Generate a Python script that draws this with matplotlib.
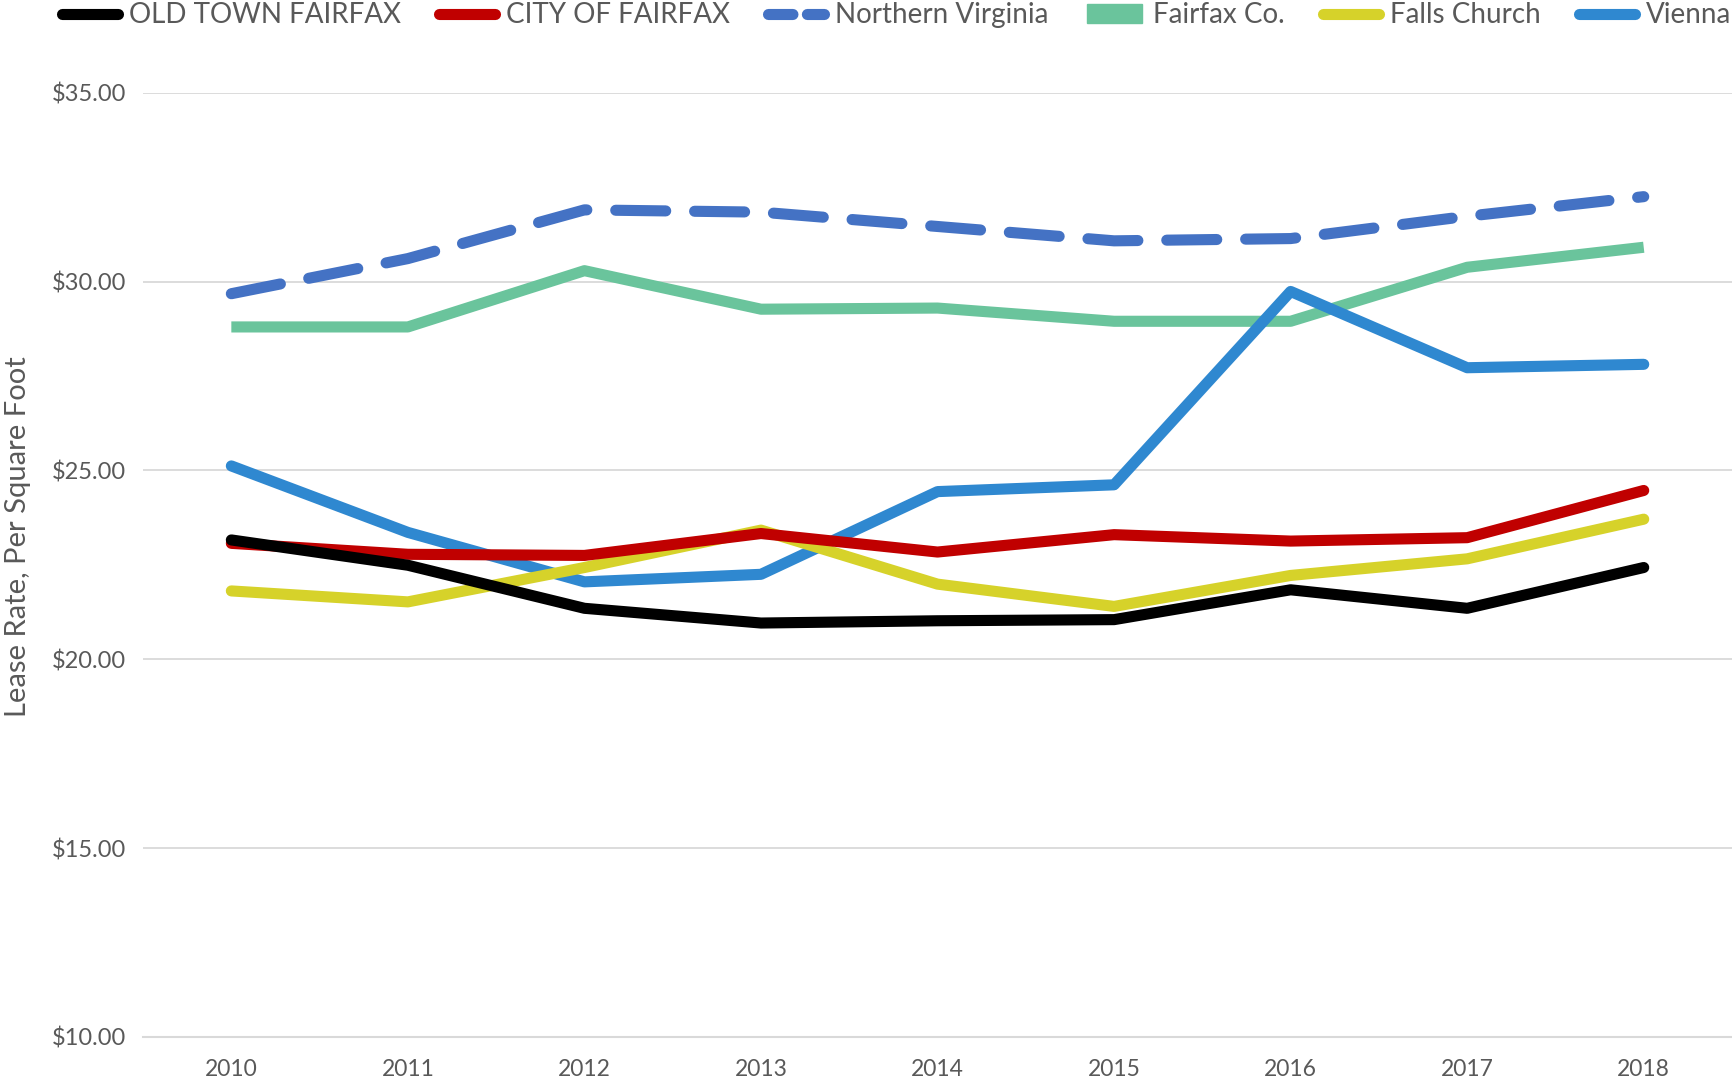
import matplotlib.pyplot as plt
from matplotlib.lines import Line2D
from matplotlib.patches import Patch

years = ['2010', '2011', '2012', '2013', '2014', '2015', '2016', '2017', '2018']

old_town = [23.16, 22.49, 21.35, 20.96, 21.02, 21.05, 21.84, 21.35, 22.43]
city_fairfax = [23.07, 22.78, 22.75, 23.33, 22.84, 23.30, 23.13, 23.22, 24.47]
northern_va = [29.68, 30.61, 31.90, 31.84, 31.46, 31.08, 31.14, 31.73, 32.25]
fairfax_co = [28.80, 28.80, 30.29, 29.27, 29.30, 28.95, 28.95, 30.38, 30.91]
falls_church = [21.81, 21.52, 22.43, 23.42, 21.99, 21.40, 22.22, 22.66, 23.71]
vienna = [25.12, 23.36, 22.05, 22.25, 24.44, 24.62, 29.74, 27.72, 27.81]

plt.rcParams['font.family'] = ['Lato', 'DejaVu Sans']
grey = '#595959'

fig = plt.figure(figsize=(17.32, 10.84), dpi=100)
ax = fig.add_axes([0.0826, 0.0434, 0.9174, 0.871])

x = range(len(years))
lw = 8
ax.plot(x, northern_va, color='#4472C4', lw=lw, ls=(0, (4.5, 2.6)),
        dash_capstyle='round', solid_capstyle='round')
ax.plot(x, fairfax_co, color='#6AC49C', lw=lw, solid_capstyle='butt')
ax.plot(x, vienna, color='#2F88D0', lw=lw, solid_capstyle='round')
ax.plot(x, falls_church, color='#D6D22A', lw=lw, solid_capstyle='round')
ax.plot(x, city_fairfax, color='#C00000', lw=lw, solid_capstyle='round')
ax.plot(x, old_town, color='#000000', lw=lw, solid_capstyle='round')

ax.set_xlim(-0.5, 8.5)
ax.set_ylim(10, 35)
ax.set_xticks(list(x))
ax.set_xticklabels(years)
ax.set_yticks([10, 15, 20, 25, 30, 35])
ax.set_yticklabels(['$%.2f' % v for v in [10, 15, 20, 25, 30, 35]])
ax.yaxis.grid(True, color='#D9D9D9', lw=1.3)
ax.set_axisbelow(True)
for s in ['top', 'right', 'left']:
    ax.spines[s].set_visible(False)
ax.spines['bottom'].set_color('#D9D9D9')
ax.spines['bottom'].set_linewidth(1.5)
ax.tick_params(axis='x', length=0, colors=grey, labelsize=16.5, pad=16)
ax.tick_params(axis='y', length=0, colors=grey, labelsize=17, pad=12)
ax.set_ylabel('Lease Rate, Per Square Foot', color=grey, fontsize=21)
ax.yaxis.set_label_coords(-0.0706, 0.53)

handles = [
    Line2D([], [], color='#000000', lw=lw, solid_capstyle='round'),
    Line2D([], [], color='#C00000', lw=lw, solid_capstyle='round'),
    Line2D([], [], color='#4472C4', lw=lw, ls=(0, (2.2, 1.3)), dash_capstyle='round'),
    Patch(color='#6AC49C'),
    Line2D([], [], color='#D6D22A', lw=lw, solid_capstyle='round'),
    Line2D([], [], color='#2F88D0', lw=lw, solid_capstyle='round'),
]
labels = ['OLD TOWN FAIRFAX', 'CITY OF FAIRFAX', 'Northern Virginia',
          'Fairfax Co.', 'Falls Church', 'Vienna']
fig.legend(handles, labels, loc='upper left', bbox_to_anchor=(0.0215, 1.021), ncol=6,
           frameon=False, fontsize=20, labelcolor=grey, handlelength=2.0,
           handletextpad=0.4, columnspacing=1.38)

fig.savefig('out.png', dpi=100)
